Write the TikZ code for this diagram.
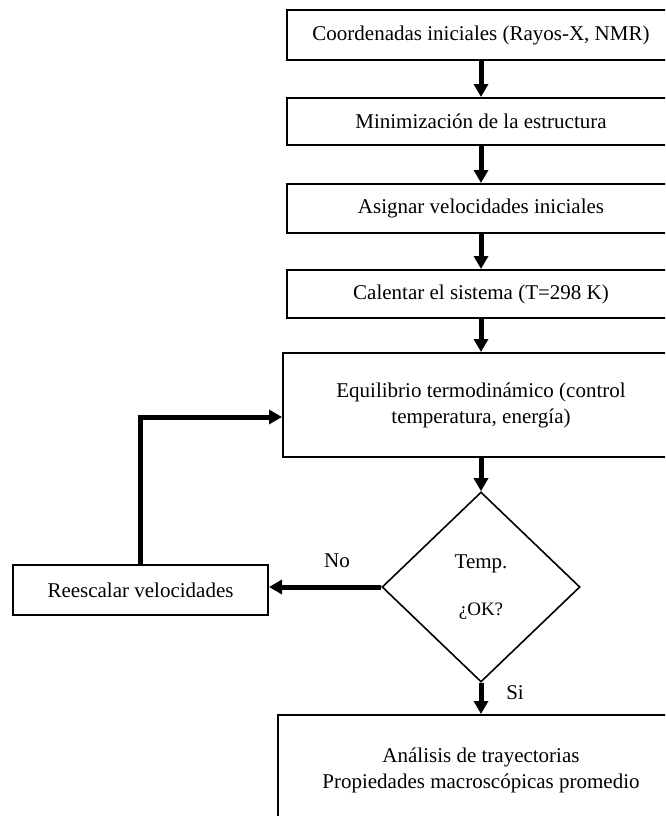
\documentclass[tikz,border=0pt]{standalone}
\usepackage{fontspec}
\setmainfont{Liberation Serif}
\usetikzlibrary{arrows.meta}
\usetikzlibrary{shapes.geometric}
\usetikzlibrary{positioning}

\tikzset{
  paso/.style={draw=black,line width=2pt,rectangle,minimum height=48pt,font=\fontsize{21}{26}\selectfont,align=center,inner sep=0pt},
  decision/.style={draw=black,line width=1.6pt,diamond,minimum width=198pt,minimum height=190pt,inner sep=0pt,align=center},
  flecha/.style={line width=5pt,-{Triangle[length=13pt,width=14pt]}},
  etiqueta/.style={font=\fontsize{21}{26}\selectfont}
}

\begin{document}
\begin{tikzpicture}[x=1pt,y=-1pt]
\useasboundingbox (0,0) rectangle (665,816);
\clip (0,0) rectangle (665,816);

\node[paso,minimum width=388pt,minimum height=50pt] (coord) at (481,35) {Coordenadas iniciales (Rayos-X, NMR)};
\node[paso,minimum width=388pt,minimum height=47pt] (minim) at (481,121.5) {Minimización de la estructura};
\node[paso,minimum width=388pt,minimum height=49pt] (asign) at (481,208.5) {Asignar velocidades iniciales};
\node[paso,minimum width=388pt,minimum height=48pt] (calent) at (481,294) {Calentar el sistema (T=298 K)};
\node[paso,minimum width=396pt,minimum height=104pt] (equil) at (481,405) {Equilibrio termodinámico (control\\temperatura, energía)};
\node[decision] (temp) at (481,587) {\fontsize{21}{26}\selectfont Temp.\\[29pt]{\fontsize{19}{22}\selectfont ¿OK?}};
\node[paso,minimum width=255pt,minimum height=50pt] (resc) at (140.5,590) {Reescalar velocidades};
\node[paso,minimum width=406pt,minimum height=110pt] (anal) at (481,770) {Análisis de trayectorias\\Propiedades macroscópicas promedio};

\draw[flecha] (coord.south) -- (minim.north);
\draw[flecha] (minim.south) -- (asign.north);
\draw[flecha] (asign.south) -- (calent.north);
\draw[flecha] (calent.south) -- (equil.north);
\draw[flecha] (equil.south) -- (temp.north);
\draw[flecha] (temp.west) -- (temp.west -| resc.east);
\draw[flecha] (temp.south) -- (anal.north);
\draw[flecha] (resc.north) |- ([yshift=-12pt]equil.west);

\node[etiqueta] (no) at (337,561) {No};
\node[etiqueta] (si) at (515,693) {Si};

\end{tikzpicture}
\end{document}
